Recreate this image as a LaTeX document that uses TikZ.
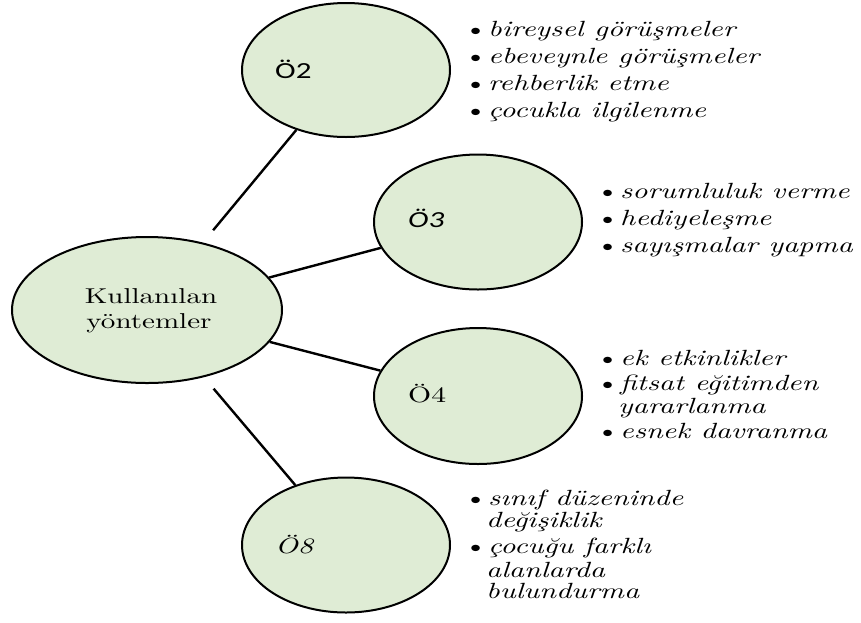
\documentclass[tikz,border=0pt]{standalone}
\usepackage{fontspec}
\setmainfont{lmroman10}[Extension=.otf, UprightFont=*-regular, ItalicFont=*-italic, BoldFont=*-bold, BoldItalicFont=*-bolditalic, FakeStretch=1.35]
\newfontfamily\sansf{Carlito}[FakeStretch=1.35]
\usetikzlibrary{shapes.geometric}
\definecolor{bubblefill}{RGB}{223,236,213}
\begin{document}
\begin{tikzpicture}[x=1pt,y=-1pt,
  bubble/.style={ellipse, draw=black, line width=2pt, fill=bubblefill, inner sep=0pt},
  link/.style={line width=2.4pt, draw=black},
  item/.style={anchor=base west, inner sep=0pt, font=\fontsize{22}{22}\selectfont\itshape},
  lbl/.style={anchor=base west, inner sep=0pt},
  maintext/.style={anchor=base, inner sep=0pt, font=\fontsize{21.5}{21.5}\selectfont}]
\useasboundingbox (0,0) rectangle (861,622);
\newcommand{\bul}{\llap{\upshape\textbullet\hspace{1pt}}}
% bubbles
\node[bubble, minimum width=270pt, minimum height=146pt] (main) at (147,310) {};
\node[bubble, minimum width=208pt, minimum height=134pt] (o2) at (346,70) {};
\node[bubble, minimum width=208pt, minimum height=135pt] (o3) at (478,222) {};
\node[bubble, minimum width=208pt, minimum height=136pt] (o4) at (478,396) {};
\node[bubble, minimum width=208pt, minimum height=135pt] (o8) at (346,545) {};
% connectors
\draw[link, shorten <=16pt] (main) -- (o2);
\draw[link] (main) -- (o3);
\draw[link] (main) -- (o4);
\draw[link, shorten <=15pt] (main) -- (o8);
% labels
\node[maintext] (mt1) at (151,303) {Kullanılan};
\node[maintext] (mt2) at (149,328) {yöntemler};
\node[lbl, font=\sansf\fontsize{23}{23}\selectfont] (t2) at (275,78) {Ö2};
\node[lbl, font=\sansf\itshape\fontsize{23}{23}\selectfont] (t3) at (408,227) {Ö3};
\node[lbl, font=\fontsize{22}{22}\selectfont] (t4) at (408,402) {Ö4};
\node[lbl, font=\itshape\fontsize{22}{22}\selectfont] (t8) at (275,553) {Ö8};
% list 1
\node[item] (a1) at (488,36) {\bul bireysel görüşmeler};
\node[item] (a2) at (488,63) {\bul ebeveynle görüşmeler};
\node[item] (a3) at (488,90) {\bul rehberlik etme};
\node[item] (a4) at (488,117) {\bul çocukla ilgilenme};
% list 2
\node[item] (b1) at (620,198) {\bul sorumluluk verme};
\node[item] (b2) at (620,225) {\bul hediyeleşme};
\node[item] (b3) at (620,252) {\bul sayışmalar yapma};
% list 3
\node[item] (c1) at (620,365) {\bul ek etkinlikler};
\node[item] (c2) at (620,390) {\bul fitsat eğitimden};
\node[item] (c3) at (618,413) {yararlanma};
\node[item] (c4) at (620,438) {\bul esnek davranma};
% list 4
\node[item] (d1) at (488,505) {\bul sınıf düzeninde};
\node[item] (d2) at (486,527) {değişiklik};
\node[item] (d3) at (488,553) {\bul çocuğu farklı};
\node[item] (d4) at (486,577) {alanlarda};
\node[item] (d5) at (486,598) {bulundurma};
\end{tikzpicture}
\end{document}
